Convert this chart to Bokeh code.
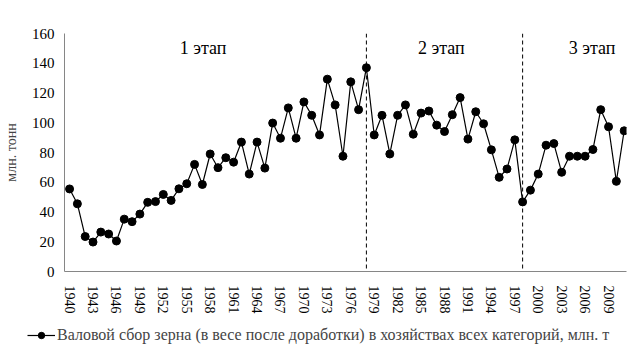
from bokeh.plotting import figure
from bokeh.layouts import column
from bokeh.models import FixedTicker, Span, Legend, LegendItem, Label, ColumnDataSource
from bokeh.embed import file_html
from bokeh.resources import INLINE

years = list(range(1940, 2012))
harvest = [55.5, 45.5, 23.5, 19.8, 26.5, 25.2, 20.5, 35.2, 33.5, 38.6,
           46.5, 47.0, 51.8, 47.8, 55.6, 59.0, 72.0, 58.5, 79.0, 69.8,
           76.5, 73.5, 87.0, 65.5, 87.0, 69.5, 99.8, 89.6, 110.0, 89.6,
           114.0, 105.0, 91.8, 129.3, 112.0, 77.5, 127.5, 108.8, 137.0, 91.8,
           105.0, 79.0, 105.0, 112.0, 92.3, 106.5, 107.9, 98.4, 94.1, 105.4,
           116.9, 89.0, 107.4, 99.3, 81.8, 63.3, 68.9, 88.5, 46.8, 54.7,
           65.5, 84.9, 86.0, 66.7, 77.5, 77.5, 77.5, 82.0, 108.8, 97.3,
           60.6, 94.6]
tick_years = list(range(1940, 2010, 3))
stage_bounds = [1978, 1998]
stage_labels = ["1 этап", "2 этап", "3 этап"]
stage_label_x = [1957.1, 1987.6, 2006.9]
series_name = "Валовой сбор зерна (в весе после доработки) в хозяйствах всех категорий, млн. т"
y_label = "млн. тонн"

FONT = "Liberation Serif"
AXIS_COLOR = "#868686"

src = ColumnDataSource(dict(year=years, val=harvest))

p = figure(width=636, height=316, output_backend="svg", toolbar_location=None,
           x_range=(1939.35, 2011.3), y_range=(0, 160),
           min_border_left=64, min_border_right=10, min_border_top=33, min_border_bottom=45)
p.frame_align = False
p.outline_line_color = None
p.grid.grid_line_color = None
p.background_fill_color = "white"
p.border_fill_color = "white"

for ax in (p.xaxis, p.yaxis):
    ax.axis_line_color = AXIS_COLOR
    ax.major_tick_line_color = None
    ax.minor_tick_line_color = None
    ax.major_label_text_font = FONT
    ax.major_label_text_color = "black"

p.xaxis.ticker = FixedTicker(ticks=tick_years)
p.xaxis.major_label_orientation = "vertical"
p.xaxis.major_label_text_font_size = "14px"
p.xaxis.major_label_standoff = 8

p.yaxis.ticker = FixedTicker(ticks=list(range(0, 161, 20)))
p.yaxis.major_label_text_font_size = "15px"
p.yaxis.major_label_standoff = 4
p.yaxis.axis_label = y_label
p.yaxis.axis_label_text_font = FONT
p.yaxis.axis_label_text_font_size = "14px"
p.yaxis.axis_label_text_font_style = "normal"
p.yaxis.axis_label_standoff = 10

for b in stage_bounds:
    p.add_layout(Span(location=b, dimension="height", line_color="black",
                      line_dash="4 3", line_width=1))

p.line("year", "val", source=src, line_color="black", line_width=1.2)
p.scatter("year", "val", source=src, size=8, fill_color="black", line_color="black")

for txt, xx in zip(stage_labels, stage_label_x):
    p.add_layout(Label(x=xx, y=150.5, text=txt, text_font=FONT, text_font_size="18px",
                       text_align="center", text_baseline="middle", text_color="black"))

# legend strip (its glyphs share the data source but lie outside this strip's ranges)
p2 = figure(width=636, height=38, output_backend="svg", toolbar_location=None,
            x_range=(0, 1), y_range=(0, 1),
            min_border_left=0, min_border_right=0, min_border_top=0, min_border_bottom=0)
p2.frame_align = False
p2.axis.visible = False
p2.grid.grid_line_color = None
p2.outline_line_color = None
l_line = p2.line("year", "val", source=src, line_color="black", line_width=1.2)
l_pts = p2.scatter("year", "val", source=src, size=8, fill_color="black", line_color="black")
legend = Legend(items=[LegendItem(label=series_name, renderers=[l_line, l_pts])],
                location=(27, 10), orientation="horizontal",
                padding=0, margin=0, spacing=0, glyph_width=28, glyph_height=16,
                label_text_font=FONT, label_text_font_size="16px", label_standoff=2,
                border_line_color=None, background_fill_alpha=0)
p2.add_layout(legend, "center")

open("out.html", "w").write(file_html(column(p, p2, spacing=0), INLINE))
